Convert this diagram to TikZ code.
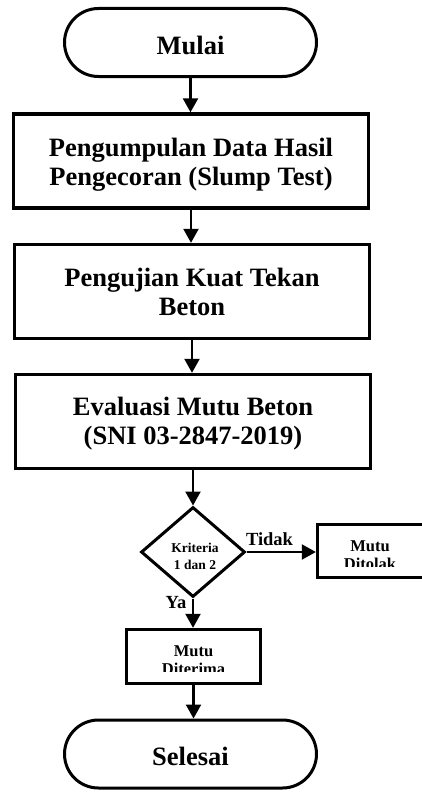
\documentclass[tikz,border=0pt]{standalone}
\usepackage{fontspec}
\setmainfont{Liberation Serif}
\usetikzlibrary{shapes.geometric,arrows.meta}
\begin{document}
\begin{tikzpicture}[x=1pt,y=-1pt,
  every node/.style={inner sep=0pt, align=center},
  big/.style={font=\fontsize{26.5}{29}\selectfont\bfseries},
  term/.style={draw, line width=3pt, rounded corners=34pt, minimum width=252pt, minimum height=68pt, big},
  proc/.style={draw, line width=3.4pt, minimum width=355pt, minimum height=94pt, big},
  smallbox/.style={draw, line width=3.4pt},
  dec/.style={draw, diamond, line width=3pt, minimum width=104pt, minimum height=90pt, aspect=1.15},
  smalltxt/.style={font=\fontsize{16.5}{17.5}\selectfont\bfseries},
  dectxt/.style={font=\fontsize{13.5}{16.5}\selectfont\bfseries},
  lbl/.style={font=\fontsize{18.5}{20}\selectfont\bfseries},
  arr/.style={line width=2.3pt, -{Triangle[length=14pt,width=15pt]}},
]
\useasboundingbox (0,0) rectangle (422,792);
\node[term, text height=25pt] (mulai) at (190.5,42.5) {Mulai};
\node[proc, text height=55pt] (p1) at (191,161) {Pengumpulan Data Hasil\\Pengecoran (Slump Test)};
\node[proc] (p2) at (192,291.5) {Pengujian Kuat Tekan\\Beton};
\node[proc, text height=51pt] (p3) at (193,421.5) {Evaluasi Mutu Beton\\(SNI 03-2847-2019)};
\node[dec] (dec) at (193,552) {};
\node[dectxt] (kriteria) at (195,556.4) {Kriteria\\1 dan 2};
\node[smallbox, minimum width=107pt, minimum height=53pt] (tolak) at (371,551) {};
\begin{scope}
  \clip (316,523) rectangle (430,566.7);
  \node[smalltxt] (tolaktxt) at (370,555) {Mutu\\Ditolak};
\end{scope}
\node[smallbox, minimum width=134pt, minimum height=54pt] (terima) at (193.5,656.5) {};
\begin{scope}
  \clip (125,628) rectangle (262,671.7);
  \node[smalltxt] (terimatxt) at (193.5,660.2) {Mutu\\Diterima};
\end{scope}
\node[term, text height=23.3pt] (selesai) at (190.5,754) {Selesai};
\node[lbl] (tidak) at (269.5,539.5) {Tidak};
\node[lbl] (ya) at (176,602.5) {Ya};
\draw[arr] (mulai.south) -- (mulai.south |- p1.north);
\draw[arr] (p1.south) -- (p1.south |- p2.north);
\draw[arr] (p2.south) -- (p2.south |- p3.north);
\draw[arr] (p3.south) -- (p3.south |- dec.north);
\draw[arr] (dec.east) -- (dec.east -| tolak.west);
\draw[arr] (dec.south) -- (dec.south |- terima.north);
\draw[arr] (terima.south) -- (terima.south |- selesai.north);
\end{tikzpicture}
\end{document}
